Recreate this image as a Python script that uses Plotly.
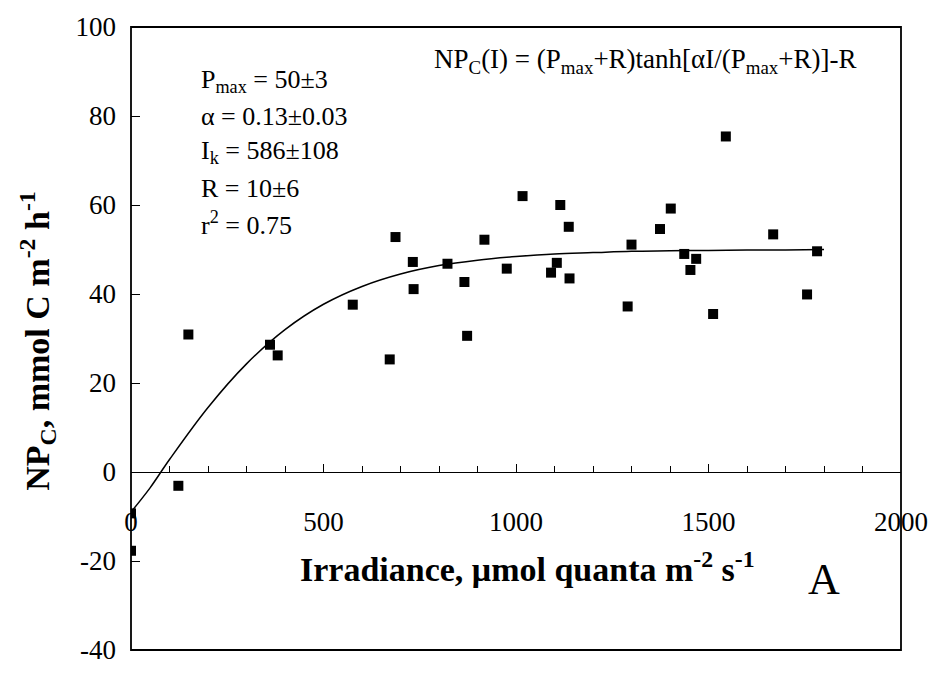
import plotly.graph_objects as go

irradiance = [0, 0, 123, 149, 361, 381, 576, 672, 687, 732, 734, 822, 866, 873,
              918, 976, 1017, 1091, 1106, 1115, 1137, 1139, 1290, 1300, 1374, 1402,
              1437, 1453, 1468, 1512, 1545, 1668, 1756, 1782]
npc = [-9.3, -17.7, -3.1, 30.9, 28.6, 26.2, 37.6, 25.3, 52.8, 47.2, 41.1, 46.8, 42.7, 30.6,
       52.2, 45.7, 62.0, 44.8, 47.0, 60.0, 55.1, 43.5, 37.2, 51.1, 54.6, 59.2,
       49.0, 45.4, 47.9, 35.5, 75.4, 53.4, 39.9, 49.6]

# Fitted curve, values
curve_x = [0, 50, 100, 200, 300, 400, 500, 600, 700, 800, 900, 1000, 1100, 1200,
           1300, 1400, 1500, 1600, 1700, 1800]
curve_y = [-9.0, -3.5, 2.8, 14.5, 24.3, 32.0, 37.7, 41.7, 44.5, 46.4, 47.6, 48.4, 49.0,
           49.3, 49.6, 49.7, 49.8, 49.9, 49.9, 50.0]

x_ticks = [0, 500, 1000, 1500, 2000]
x_tick_text = ["0", "500", "1000", "1500", "2000"]
y_ticks = [-40, -20, 0, 20, 40, 60, 80, 100]
y_tick_text = ["-40", "-20", "0", "20", "40", "60", "80", "100"]

param_lines = ["P<sub>max</sub> = 50±3", "α = 0.13±0.03", "I<sub>k</sub> = 586±108",
               "R = 10±6", "r<sup>2</sup> = 0.75"]
equation = "NP<sub>C</sub>(I) = (P<sub>max</sub>+R)tanh[αI/(P<sub>max</sub>+R)]-R"

FONT = "'Liberation Serif', 'Times New Roman', Times, serif"

fig = go.Figure()
fig.add_trace(go.Scatter(x=curve_x, y=curve_y, mode="lines",
                         line=dict(color="black", width=1.5, shape="spline"),
                         showlegend=False, hoverinfo="skip"))
fig.add_trace(go.Scatter(x=irradiance, y=npc, mode="markers",
                         marker=dict(symbol="square", size=10, color="black"),
                         showlegend=False))

fig.update_layout(
    width=940, height=677,
    margin=dict(l=131, r=31, t=16, b=16),
    paper_bgcolor="white", plot_bgcolor="white",
    font=dict(family=FONT, size=26, color="black"),
    xaxis=dict(range=[0, 2000], tickvals=x_ticks, ticktext=x_tick_text,
               ticks="inside", ticklen=8,
               tickwidth=1, tickcolor="black", showgrid=False, zeroline=False,
               showline=True, linecolor="black", linewidth=1.2,
               anchor="free", position=40/140, ticklabelstandoff=25,
               minor=dict(dtick=100, ticks="inside", ticklen=6, tickcolor="black",
                          tickwidth=1, showgrid=False),
               tickfont=dict(family=FONT, size=27)),
    yaxis=dict(range=[-40, 100], tickvals=y_ticks, ticktext=y_tick_text,
               ticks="inside", ticklen=9,
               tickwidth=1, tickcolor="black", showgrid=False, zeroline=False,
               showline=False, ticklabelstandoff=14, tickfont=dict(family=FONT, size=27)),
)

fig.add_shape(type="rect", xref="paper", yref="paper", x0=0, x1=1, y0=0, y1=1,
              line=dict(color="black", width=1.8))

# Axis titles
fig.add_annotation(x=-0.121, y=0.496, xref="paper", yref="paper",
                   text="<b>NP<sub>C</sub>, mmol C m<sup>-2</sup> h<sup>-1</sup></b>",
                   textangle=-90, showarrow=False, font=dict(family=FONT, size=34),
                   xanchor="center", yanchor="middle")
fig.add_annotation(x=1030, y=-21.3, xref="x", yref="y",
                   text="<b>Irradiance, μmol quanta m<sup>-2</sup> s<sup>-1</sup></b>",
                   showarrow=False, font=dict(family=FONT, size=34),
                   xanchor="center", yanchor="middle")
fig.add_annotation(x=1800, y=-24.2, xref="x", yref="y", text="A", showarrow=False,
                   font=dict(family=FONT, size=44), xanchor="center", yanchor="middle")

fig.add_annotation(x=1336, y=92.4, xref="x", yref="y", text=equation, showarrow=False,
                   font=dict(family=FONT, size=27), xanchor="center", yanchor="middle")

param_y = [87.8, 79.8, 71.8, 63.8, 55.8]
for txt, yy in zip(param_lines, param_y):
    fig.add_annotation(x=177, y=yy, xref="x", yref="y", text=txt, showarrow=False,
                       font=dict(family=FONT, size=26), xanchor="left", yanchor="middle")

fig.write_html("out.html")
